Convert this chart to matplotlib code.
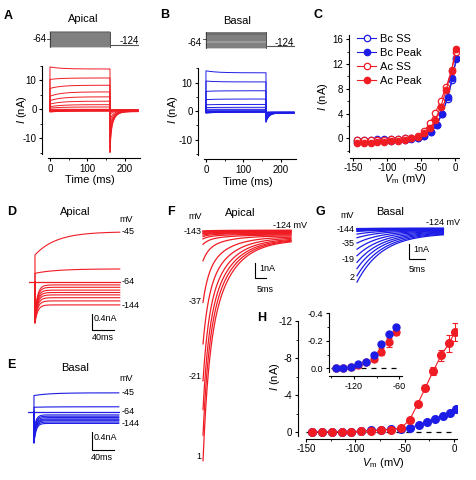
import numpy as np
import matplotlib
matplotlib.use("Agg")
import matplotlib.pyplot as plt
from matplotlib.ticker import AutoMinorLocator

plt.rcParams['font.family'] = ['Liberation Sans', 'DejaVu Sans']
plt.rcParams['axes.unicode_minus'] = False
plt.rcParams['mathtext.fontset'] = 'custom'
plt.rcParams['mathtext.it'] = 'Liberation Sans:italic'
plt.rcParams['mathtext.rm'] = 'Liberation Sans'
plt.rcParams['axes.linewidth'] = 0.8
for a in ['xtick', 'ytick']:
    plt.rcParams[a + '.major.width'] = 0.8
    plt.rcParams[a + '.minor.width'] = 0.6
    plt.rcParams[a + '.major.size'] = 2.5
    plt.rcParams[a + '.minor.size'] = 1.5
    plt.rcParams[a + '.labelsize'] = 7
    plt.rcParams[a + '.major.pad'] = 1.5

RED = '#f01c24'
BLUE = '#1c1ce6'

# step voltages (mV)
v_ac = [-144, -134, -124, -114, -104, -94, -84, -74, -64, -54, -45, -37, -29, -21, -13, -5, 1]
v_bc = [-144, -134, -124, -114, -104, -94, -84, -74, -64, -54, -45, -35, -27, -19, -11, -4, 2]

# C: I-V (nA)
bc_ss = [-0.2, -0.2, -0.2, -0.15, -0.15, -0.1, -0.1, 0.0, 0.0, 0.1, 0.4, 1.1, 2.2, 4.0, 6.4, 9.5, 13.0]
bc_peak = [-0.6, -0.55, -0.5, -0.45, -0.4, -0.35, -0.3, -0.2, -0.1, 0.0, 0.3, 1.0, 2.1, 4.0, 6.6, 9.7, 12.9]
ac_ss = [-0.3, -0.3, -0.25, -0.2, -0.2, -0.15, -0.1, 0.0, 0.1, 0.4, 1.2, 2.5, 4.1, 6.1, 8.3, 11.0, 13.9]
ac_peak = [-0.8, -0.75, -0.7, -0.6, -0.55, -0.45, -0.35, -0.2, 0.0, 0.25, 0.8, 1.6, 3.0, 5.1, 7.8, 10.9, 14.5]

# A / B raw steps: current at step onset and at step end (nA)
a_start = [-0.9, -0.85, -0.8, -0.7, -0.6, -0.5, -0.4, -0.25, 0.0, 0.4, 0.9, 1.8, 3.0, 4.5, 7.2, 10.3, 14.6]
a_end = [-0.6, -0.55, -0.5, -0.45, -0.4, -0.3, -0.25, -0.15, 0.0, 0.8, 1.6, 2.8, 4.3, 6.0, 8.3, 10.8, 13.9]
b_start = [-0.7, -0.65, -0.6, -0.55, -0.5, -0.45, -0.35, -0.2, 0.0, 0.3, 0.6, 1.2, 2.2, 4.0, 6.9, 10.5, 14.1]
b_end = [-0.4, -0.35, -0.3, -0.3, -0.25, -0.2, -0.15, -0.1, 0.0, 0.3, 0.6, 1.3, 2.3, 4.2, 7.1, 10.2, 13.4]

# tail currents at -124 mV: peak amplitude and settled offset (nA)
tail_ac = [0.05, 0.05, 0.05, 0.05, 0.1, 0.1, 0.15, 0.2, 0.3, 0.6, 1.6, 4.2, 6.8, 9.1, 10.9, 12.5, 14.1]
tail_bc = [0.02, 0.02, 0.03, 0.03, 0.05, 0.06, 0.08, 0.12, 0.27, 0.49, 0.82, 1.2, 1.6, 2.0, 2.38, 2.82, 3.2]
base_ac = [0.3, 0.28, 0.25, 0.22, 0.2, 0.17, 0.14, 0.1, 0.05, 0.0, -0.05, -0.1, -0.15, -0.2, -0.24, -0.27, -0.3]
base_bc = [0.07, 0.06, 0.05, 0.04, 0.03, 0.02, 0.0, -0.02, -0.04, -0.06, -0.08, -0.1, -0.13, -0.16, -0.19, -0.22, -0.25]

# D / E: steps -144..-45 mV, relative to holding at -64 (nA)
d_init = [-1.04, -1.0, -0.97, -0.94, -0.9, -0.87, -0.84, -0.8, 0.0, 0.21, 0.67]
d_ss = [-0.58, -0.48, -0.40, -0.33, -0.27, -0.21, -0.14, -0.08, 0.0, 0.32, 1.25]
d_tau = [5, 5, 5, 5, 5, 5, 5, 5, 1, 40, 40]
e_init = [-0.7, -0.66, -0.62, -0.58, -0.54, -0.5, -0.46, -0.4, 0.0, 0.1, 0.36]
e_ss = [-0.26, -0.23, -0.2, -0.18, -0.16, -0.13, -0.1, -0.07, 0.0, 0.11, 0.42]
e_tau = [4, 4, 4, 4, 4, 4, 4, 4, 1, 30, 30]

# H: tail amplitude vs step voltage (nA)
h_ac = [0.0, 0.0, -0.007, -0.024, -0.044, -0.068, -0.122, -0.188, -0.263, -0.4, -1.3, -3.0, -4.8, -6.6, -8.3, -9.6, -10.8]
h_ac_err = [0.02, 0.01, 0.01, 0.01, 0.01, 0.015, 0.025, 0.03, 0.02, 0.1, 0.15, 0.2, 0.3, 0.4, 0.6, 0.9, 1.0]
h_bc = [0.0, 0.0, -0.012, -0.029, -0.049, -0.093, -0.176, -0.246, -0.299, -0.35, -0.47, -0.76, -1.05, -1.44, -1.73, -2.1, -2.45]

W, H = 476, 480
fig = plt.figure(figsize=(W / 100, H / 100), dpi=100)


def box(l, t, r, b):
    return fig.add_axes([l / W, 1 - b / H, (r - l) / W, (b - t) / H])


def txt(x, y, s, **kw):
    kw.setdefault('fontsize', 7)
    kw.setdefault('ha', 'center')
    kw.setdefault('va', 'center')
    fig.text(x / W, 1 - y / H, s, **kw)


def style(ax, left_px, bottom_px):
    for s in ['top', 'right']:
        ax.spines[s].set_visible(False)
    ax.spines['left'].set_position(('outward', left_px * 0.72))
    ax.spines['bottom'].set_position(('outward', bottom_px * 0.72))
    ax.xaxis.set_minor_locator(AutoMinorLocator(2))
    ax.yaxis.set_minor_locator(AutoMinorLocator(2))
    ax.patch.set_alpha(0)


def tail_shape_ac(t):
    # fast + slow deactivation
    return 0.45 * np.exp(-t / 2.5) + 0.55 * np.exp(-t / 10)


def tail_shape_bc(t):
    return np.exp(-t / 8)


t_step = np.linspace(0, 160, 200)
t_tail = np.linspace(0, 75, 400)


def protocol(l, t, r, b, volts):
    ax = box(l, t, r, b)
    ax.fill_between([0, 160], min(volts), max(volts), color='#bcbcbc', lw=0)
    for v in volts:
        ax.plot([0, 160], [v, v], color='#333333', lw=0.35)
    ax.plot([0, 0], [min(volts), max(volts)], color='#333333', lw=0.6)
    ax.plot([160, 160], [min(volts), max(volts)], color='#333333', lw=0.6)
    ax.plot([-8, 0], [-64, -64], color='#333333', lw=0.6)
    ax.plot([160, 235], [-124, -124], color='#555555', lw=0.8)
    ax.set_xlim(-10, 240)
    ax.set_ylim(-150, 5)
    ax.axis('off')


def raw_panel(l, t, r, b, starts, ends, tails, bases, shape, color):
    ax = box(l, t, r, b)
    for k in range(len(starts)):
        ys = ends[k] + (starts[k] - ends[k]) * np.exp(-t_step / 30)
        yt = -0.5 + bases[k] - tails[k] * shape(t_tail)
        ax.plot(np.concatenate([[0], t_step, 160 + t_tail]),
                np.concatenate([[0], ys, yt]), color=color, lw=0.7)
    ax.set_xlim(-5, 240)
    ax.set_ylim(-15.5, 15)
    ax.set_xticks([0, 100, 200])
    ax.set_yticks([-10, 0, 10])
    style(ax, 6, 4)
    return ax


# ---- A ----
protocol(46.25, 31.27, 140, 47.95, v_ac)
txt(46.5, 39.3, '-64', ha='right')
txt(129, 40.7, '-124')
raw_panel(48.1, 65.8, 140, 154.25, a_start, a_end, tail_ac, base_ac, tail_shape_ac, RED)
txt(8.3, 15.7, 'A', fontsize=9, weight='bold')
txt(83, 19.5, 'Apical', fontsize=8)
txt(21.7, 110, '$I$ (nA)', fontsize=8, rotation=90)
txt(90, 180, 'Time (ms)', fontsize=8)

# ---- B ----
protocol(202.25, 31.9, 296, 48.6, v_bc)
txt(201.7, 43.3, '-64', ha='right')
txt(284, 42.7, '-124')
raw_panel(204.1, 68.25, 296, 155.2, b_start, b_end, tail_bc, base_bc, tail_shape_bc, BLUE)
txt(165, 15, 'B', fontsize=9, weight='bold')
txt(237.3, 20.5, 'Basal', fontsize=8)
txt(173.3, 110, '$I$ (nA)', fontsize=8, rotation=90)
txt(248.3, 181.7, 'Time (ms)', fontsize=8)

# ---- C ----
axC = box(350, 35, 459.3, 151.7)
series = [(v_bc, bc_ss, BLUE, 'white', 'Bc SS'),
          (v_bc, bc_peak, BLUE, BLUE, 'Bc Peak'),
          (v_ac, ac_ss, RED, 'white', 'Ac SS'),
          (v_ac, ac_peak, RED, RED, 'Ac Peak')]
for v, vals, c, fc, lab in series:
    axC.plot(v, vals, '-o', color=c, mfc=fc, mec=c, ms=4.6, mew=0.9, lw=0.8, label=lab)
axC.set_xlim(-154.4, 6.3)
axC.set_ylim(-2.16, 16.7)
axC.set_xticks([-150, -100, -50, 0])
axC.set_yticks([0, 4, 8, 12, 16])
style(axC, 1.5, 6)
axC.legend(loc='upper left', bbox_to_anchor=(0.065, 1.01), frameon=False, fontsize=8,
           handlelength=1.7, handletextpad=0.4, labelspacing=0.36, borderaxespad=0,
           borderpad=0)
txt(318.3, 15, 'C', fontsize=9, weight='bold')
txt(323, 96.7, '$I$ (nA)', fontsize=8, rotation=90)
txt(405, 179, '$V_{\\mathrm{m}}$ (mV)', fontsize=8)


# ---- D / E ----
def small_steps(l, t, r, b, ylim, init, ss, tau, color):
    ax = box(l, t, r, b)
    tt = np.linspace(0, 157, 400)
    for k in range(len(init)):
        if ss[k] == 0.0 and init[k] == 0.0:
            ax.plot([-11, 157], [0, 0], color=color, lw=0.9)
            continue
        y = ss[k] + (init[k] - ss[k]) * np.exp(-tt / tau[k])
        ax.plot(np.concatenate([[0], tt]), np.concatenate([[0], y]), color=color, lw=0.8)
    ax.set_xlim(-12, 160)
    ax.set_ylim(*ylim)
    ax.axis('off')
    return ax


axD = small_steps(28.5, 225.7, 121.4, 333.7, (-1.3, 1.4), d_init, d_ss, d_tau, RED)
axD.plot([106, 106, 146], [-0.81, -1.21, -1.21], color='k', lw=0.8, clip_on=False)
txt(11.7, 211.7, 'D', fontsize=9, weight='bold')
txt(75, 211.7, 'Apical', fontsize=8)
txt(126, 220, 'mV', fontsize=6.5)
txt(121.5, 231.7, '-45', fontsize=6.5, ha='left')
txt(121.5, 281.7, '-64', fontsize=6.5, ha='left')
txt(121.5, 305, '-144', fontsize=6.5, ha='left')
txt(94, 318.5, '0.4nA', fontsize=6.5, ha='left')
txt(103, 338, '40ms', fontsize=6.5)

axE = small_steps(27.5, 387, 120.4, 452.2, (-0.9, 0.55), e_init, e_ss, e_tau, BLUE)
axE.plot([108, 108, 148], [-0.444, -0.844, -0.844], color='k', lw=0.8, clip_on=False)
txt(11.7, 365, 'E', fontsize=9, weight='bold')
txt(75, 368.3, 'Basal', fontsize=8)
txt(126, 378.3, 'mV', fontsize=6.5)
txt(121.5, 392.7, '-45', fontsize=6.5, ha='left')
txt(121.5, 411, '-64', fontsize=6.5, ha='left')
txt(121.5, 423.3, '-144', fontsize=6.5, ha='left')
txt(94, 437, '0.4nA', fontsize=6.5, ha='left')
txt(102, 458, '40ms', fontsize=6.5)

# ---- F ----
axF = box(198.6, 222.4, 293.2, 478)
tf = np.linspace(0, 40, 400)
for k in range(len(tail_ac)):
    axF.plot(tf, base_ac[k] - tail_ac[k] * tail_shape_ac(tf), color=RED, lw=0.9)
axF.plot([23.6, 23.6, 28.6], [-1.76, -2.76, -2.76], color='k', lw=0.8)
axF.set_xlim(-2, 41)
axF.set_ylim(-15.5, 0.8)
axF.axis('off')
txt(170.7, 211.7, 'F', fontsize=9, weight='bold')
txt(240, 212.7, 'Apical', fontsize=8)
txt(195, 216.7, 'mV', fontsize=6.5)
txt(290, 225, '-124 mV', fontsize=6.5)
for lab, yy in [('-143', 231.7), ('-37', 301), ('-21', 376.7), ('1', 456.7)]:
    txt(201.5, yy, lab, fontsize=6.5, ha='right')
txt(259, 268.3, '1nA', fontsize=6.5, ha='left')
txt(265, 289, '5ms', fontsize=6.5)

# ---- G ----
axG = box(353.8, 221.65, 446.6, 282.85)
tg = np.linspace(0, 27, 300)
for k in range(len(tail_bc)):
    axG.plot(tg, base_bc[k] - tail_bc[k] * tail_shape_bc(tg), color=BLUE, lw=0.9)
axG.plot([16.25, 16.25, 21.25], [-0.96, -1.96, -1.96], color='k', lw=0.8)
axG.set_xlim(-1, 28)
axG.set_ylim(-3.5, 0.5)
axG.axis('off')
txt(320.7, 211.7, 'G', fontsize=9, weight='bold')
txt(390, 211.7, 'Basal', fontsize=8)
txt(346.7, 215.7, 'mV', fontsize=6.5)
txt(443, 222.7, '-124 mV', fontsize=6.5)
for lab, yy in [('-144', 229.3), ('-35', 244), ('-19', 259.3), ('2', 277.3)]:
    txt(355, yy, lab, fontsize=6.5, ha='right')
txt(413.3, 249, '1nA', fontsize=6.5, ha='left')
txt(416.7, 269, '5ms', fontsize=6.5)

# ---- H ----
axH = box(306, 321, 457, 435.7)
axH.plot([-150, 0], [0, 0], color='k', lw=0.9, dashes=(4, 4), zorder=1)
axH.plot(v_bc, h_bc, '-o', color=BLUE, ms=5.5, lw=0.8, zorder=2)
axH.errorbar(v_ac, h_ac, yerr=h_ac_err, fmt='-o', color=RED, ms=5.5, lw=0.8,
             capsize=2, elinewidth=0.8, capthick=0.8, zorder=3)
axH.set_xlim(-150, 3)
axH.set_ylim(0.4, -12)
axH.set_xticks([-150, -100, -50, 0])
axH.set_yticks([0, -4, -8, -12])
style(axH, 8, 3)
txt(262, 318, 'H', fontsize=9, weight='bold')
txt(275, 377, '$I$ (nA)', fontsize=8, rotation=90)
txt(383, 463, '$V_{\\mathrm{m}}$ (mV)', fontsize=8)

axI = box(329, 313.3, 401.6, 372.4)
axI.plot([-150, -58], [0, 0], color='k', lw=0.9, dashes=(4, 4), zorder=1)
axI.errorbar(v_ac[:9], h_ac[:9], yerr=h_ac_err[:9], fmt='o', color=RED, ms=5, capsize=2,
             elinewidth=0.8, capthick=0.8, zorder=2)
axI.plot(v_bc[:9], h_bc[:9], 'o', color=BLUE, ms=5, zorder=3)
axI.set_xlim(-153, -57)
axI.set_ylim(0.03, -0.4)
axI.set_xticks([-120, -60])
axI.set_yticks([0, -0.2, -0.4])
axI.set_yticklabels(['0.0', '-0.2', '-0.4'])
style(axI, 0, 4)
axI.tick_params(labelsize=6.5)

fig.savefig('out.png', dpi=100)
